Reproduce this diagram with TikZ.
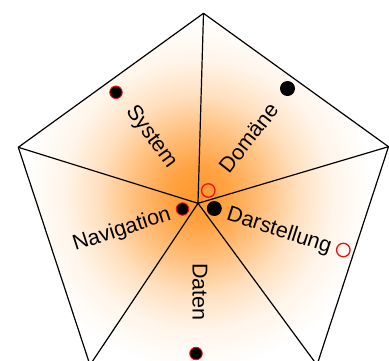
\documentclass[tikz,border=0pt]{standalone}
\usepackage{fontspec}
\setmainfont{Liberation Sans}
\definecolor{orng}{RGB}{255,140,20}
\definecolor{rimred}{RGB}{235,20,20}
\pgfdeclareradialshading{glow}{\pgfpoint{0bp}{0bp}}{%
  color(0bp)=(orng!90!white);
  color(4.3bp)=(orng!80!white);
  color(9.3bp)=(orng!55!white);
  color(14.3bp)=(orng!27!white);
  color(19.3bp)=(orng!9!white);
  color(25bp)=(white);
  color(50bp)=(white)}
\tikzset{
  edge/.style={black, line width=1.2pt, line join=round},
  lbl/.style={inner sep=0pt, font=\fontsize{21.5}{24}\selectfont},
  dotrim/.style={circle, fill=black, draw=rimred, line width=0.9pt, inner sep=0pt, minimum size=12.5pt},
  dotblk/.style={circle, fill=black, inner sep=0pt, minimum size=15pt},
  ring/.style={circle, draw=rimred, line width=1.3pt, inner sep=0pt, minimum size=13.5pt}
}
\begin{document}
\begin{tikzpicture}[x=1pt, y=-1pt]
\useasboundingbox (0,0) rectangle (389,360);
% vertices
\coordinate (T) at (203.5,13.3);
\coordinate (R) at (388.5,146.7);
\coordinate (BR) at (317,365);
\coordinate (BL) at (90,365);
\coordinate (L) at (18.3,147.3);
\coordinate (C) at (198,203.3);
\begin{scope}
  \clip (T) -- (R) -- (BR) -- (BL) -- (L) -- cycle;
  \fill[white] (T) -- (R) -- (BR) -- (BL) -- (L) -- cycle;
  \shade[shading=glow] (198,195) circle (175);
\end{scope}
\draw[edge] (T) -- (R) -- (BR) -- (BL) -- (L) -- cycle;
\draw[edge] (C) -- (T);
\draw[edge] (C) -- (R);
\draw[edge] (C) -- (BR);
\draw[edge] (C) -- (BL);
\draw[edge] (C) -- (L);
% labels
\node[lbl, rotate=-54] (sys) at (151,137) {System};
\node[lbl, rotate=52] (dom) at (249,138) {Domäne};
\node[lbl, rotate=-18] (dar) at (279,231) {Darstellung};
\node[lbl, rotate=18] (nav) at (122,230) {Navigation};
\node[lbl, rotate=-90] (dat) at (200,292) {Daten};
% dots
\node[dotrim] (d1) at (116,92.3) {};
\node[dotblk] (d2) at (287.5,88.5) {};
\node[ring] (d3) at (208.3,190.5) {};
\node[dotrim] (d4) at (182.5,209) {};
\node[dotblk] (d5) at (214.3,208.5) {};
\node[ring] (d6) at (343.3,250) {};
\node[dotrim] (d7) at (196,353.5) {};
\end{tikzpicture}
\end{document}
